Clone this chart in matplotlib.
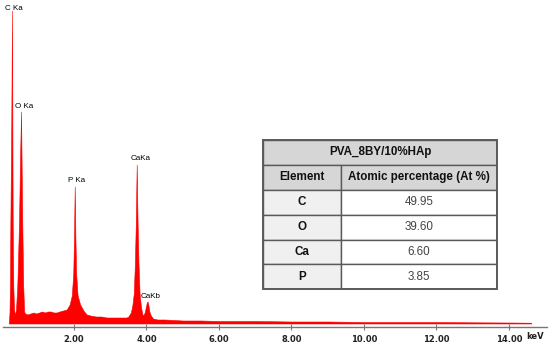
import numpy as np
import matplotlib
matplotlib.use('Agg')
import matplotlib.pyplot as plt
from matplotlib.patches import Rectangle

# EDS spectrum outline (keV, counts in arbitrary units)
energy = [0.20, 0.22, 0.234, 0.245, 0.27, 0.29, 0.30, 0.309, 0.326, 0.345, 0.37,
          0.40, 0.436, 0.483, 0.515, 0.54, 0.555, 0.574, 0.60, 0.625,
          0.65, 0.72, 0.80, 0.88, 0.96, 1.04, 1.12, 1.20, 1.28, 1.36, 1.44, 1.52, 1.60,
          1.70, 1.80, 1.88, 1.94, 1.98, 2.00, 2.02, 2.04, 2.06, 2.10, 2.17, 2.26, 2.35,
          2.45, 2.60, 2.75, 2.90, 3.05, 3.20, 3.35, 3.45,
          3.50, 3.57, 3.61, 3.65, 3.68, 3.705, 3.73, 3.755, 3.78, 3.81, 3.85, 3.89,
          3.91, 3.95, 3.98, 4.01, 4.03, 4.05, 4.08, 4.12, 4.18,
          4.30, 4.50, 4.75, 5.00, 5.50, 6.00, 7.00, 8.00, 9.00, 10.00, 11.00, 12.00,
          13.00, 14.00, 14.60, 14.62]
counts = [0, 10, 37, 100, 200, 313, 200, 100, 37, 15, 8,
          14, 37, 100, 170, 212, 160, 100, 37, 12,
          10, 9, 10, 11, 10, 11, 12, 11, 12, 12, 11, 11, 12,
          13, 14, 19, 28, 50, 85, 137, 85, 50, 28, 19, 13, 9,
          8, 7, 7, 6, 6, 6, 6, 6,
          7, 11, 18, 30, 60, 100, 159, 100, 60, 30, 16, 9,
          8, 11, 16, 21, 22, 19, 12, 8, 5,
          4, 4, 3.5, 3, 3, 2.5, 2.5, 2, 2, 1.5, 1.5, 1.5,
          1.2, 1, 0.8, 0]

peak_names = ['C Ka', 'O Ka', 'P Ka', 'CaKa', 'CaKb']
peak_energy = [0.29, 0.54, 2.02, 3.73, 4.03]
peak_counts = [313, 212, 137, 159, 22]

tick_kev = [2, 4, 6, 8, 10, 12, 14]

table_title = 'PVA_8BY/10%HAp'
table_header = ['Element', 'Atomic percentage (At %)']
elements = ['C', 'O', 'Ca', 'P']
atomic_pct = [49.95, 39.60, 6.60, 3.85]

narrow = ['Liberation Sans Narrow', 'DejaVu Sans']
sans = ['Liberation Sans', 'DejaVu Sans']

fig = plt.figure(figsize=(5.5, 3.44), dpi=100)
ax = fig.add_axes([3.3 / 550, 17 / 344, 543.7 / 550, 327 / 344])

ax.fill_between(energy, counts, 0, color='#ff0000', linewidth=0.4, edgecolor='#ff0000')
# label offsets in pixels (the top label sits tight under the frame edge)
label_dy = {'C Ka': 2, 'O Ka': 5.5, 'P Ka': 5.5, 'CaKa': 6, 'CaKb': 5}
for name, e, c in zip(peak_names, peak_energy, peak_counts):
    ax.annotate(name, xy=(e, c), xytext=(-6.5, label_dy[name]), textcoords='offset pixels',
                ha='left', va='center', fontsize=5.8, family=sans, color='black',
                annotation_clip=False)

ax.set_xlim(0.05, 15.05)
ax.set_ylim(-3.5, 323.5)
ax.set_yticks([])
for s in ['left', 'right', 'top']:
    ax.spines[s].set_visible(False)
ax.spines['bottom'].set_color('#777777')
ax.spines['bottom'].set_linewidth(1.0)
ax.set_xticks(tick_kev)
ax.set_xticklabels(['%.2f' % t for t in tick_kev])
ax.tick_params(axis='x', direction='inout', length=5, width=0.8, color='#777777',
               pad=3, labelsize=6)
for lab in ax.get_xticklabels():
    lab.set_family(narrow)
    lab.set_fontweight('bold')
    lab.set_color('#222222')
fig.text(535 / 550, 7.5 / 344, 'keV', ha='center', va='center', fontsize=6,
         family=narrow, fontweight='bold', color='#222222')

# composition table
tax = fig.add_axes([263 / 550, (344 - 289.3) / 344, 234 / 550, 149.3 / 344])
tax.set_xlim(0, 1)
tax.set_ylim(6, 0)
tax.axis('off')
split = 0.333
edge = '#5a5a5a'

rows = [[table_title]] + [table_header] + [[el, '%.2f' % v] for el, v in zip(elements, atomic_pct)]
for i, row in enumerate(rows):
    if len(row) == 1:
        tax.add_patch(Rectangle((0, i), 1, 1, facecolor='#d6d6d6', edgecolor=edge, lw=1))
        tax.text(0.5, i + 0.5, row[0], ha='center', va='center', fontsize=8.4,
                 family=sans, fontweight='bold', color='#111111')
        continue
    c0 = '#d6d6d6' if i == 1 else '#f0f0f0'
    c1 = '#d6d6d6' if i == 1 else 'white'
    tax.add_patch(Rectangle((0, i), split, 1, facecolor=c0, edgecolor=edge, lw=1))
    tax.add_patch(Rectangle((split, i), 1 - split, 1, facecolor=c1, edgecolor=edge, lw=1))
    tax.text(split / 2, i + 0.5, row[0], ha='center', va='center', fontsize=8.4,
             family=sans, fontweight='bold', color='#111111')
    tax.text((1 + split) / 2, i + 0.5, row[1], ha='center', va='center', fontsize=8.4,
             family=sans, fontweight='bold' if i == 1 else 'normal',
             color='#111111' if i == 1 else '#444444')
tax.add_patch(Rectangle((0, 0), 1, 6, fill=False, edgecolor=edge, lw=1.4, clip_on=False))

fig.savefig('out.png', dpi=100)
